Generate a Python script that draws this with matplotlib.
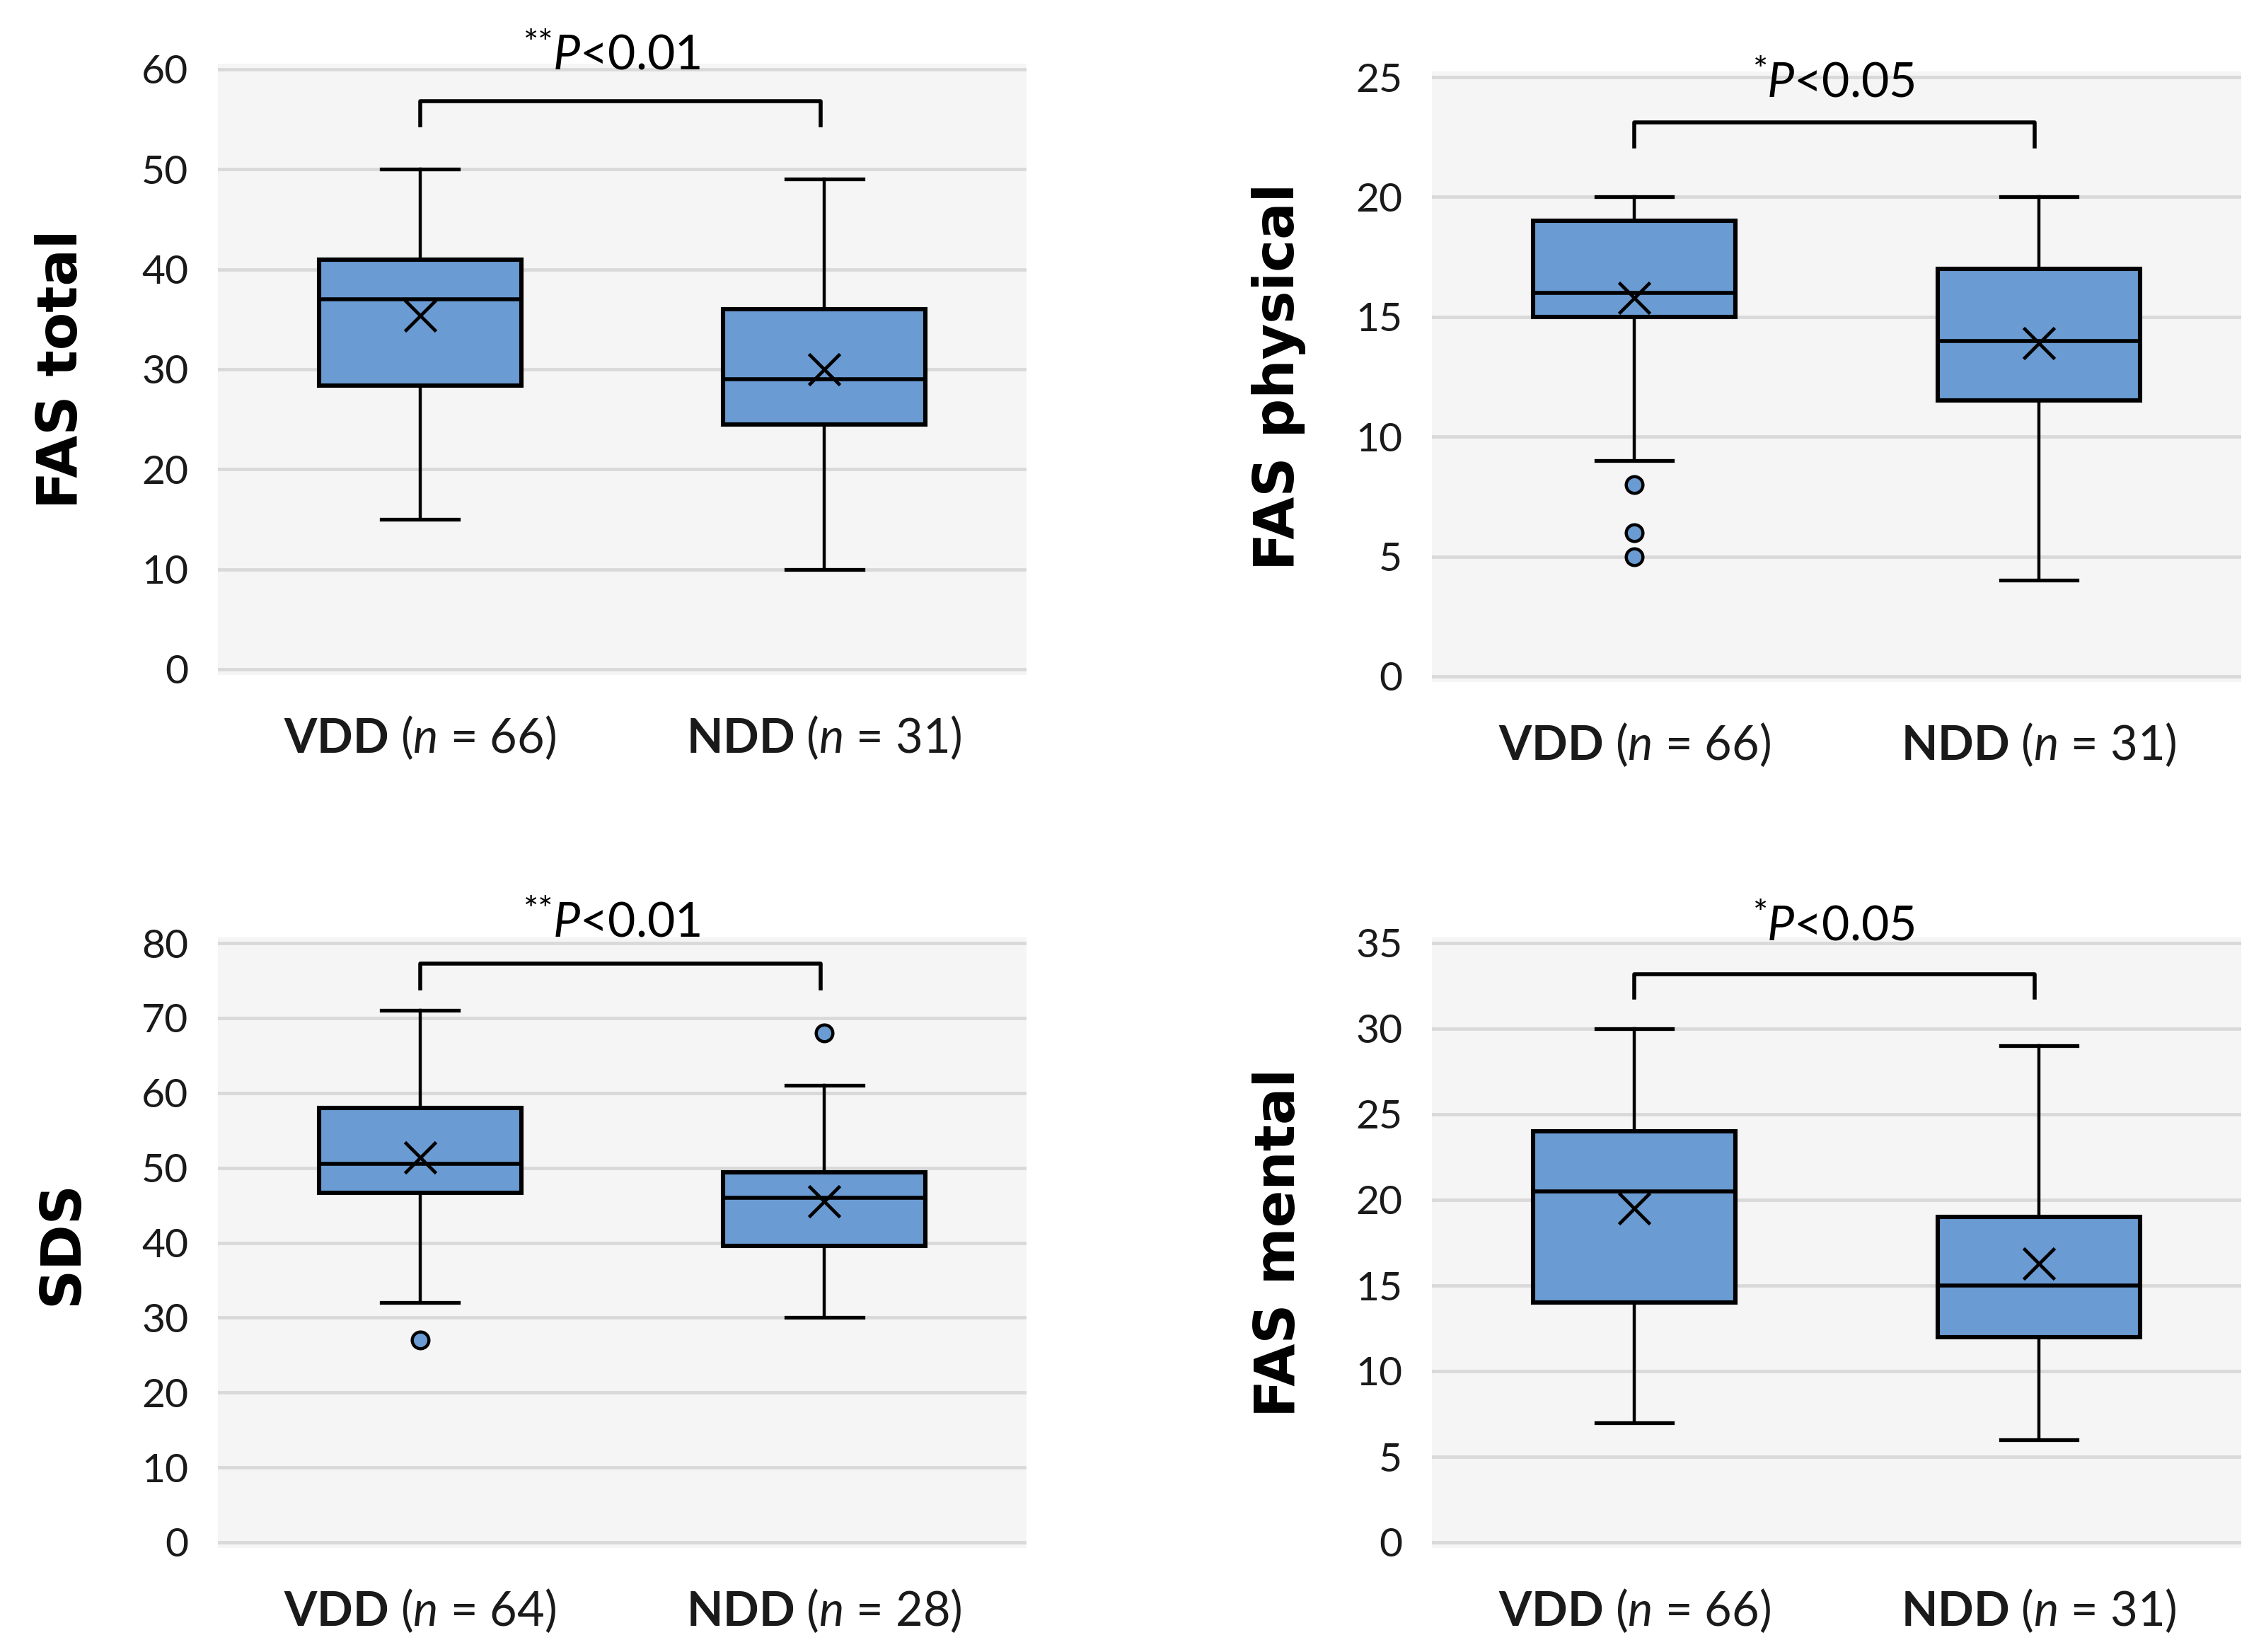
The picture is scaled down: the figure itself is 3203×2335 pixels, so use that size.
import matplotlib.pyplot as plt

plt.rcParams['font.family'] = ['Lato', 'DejaVu Sans']
plt.rcParams['mathtext.fontset'] = 'custom'
plt.rcParams['mathtext.rm'] = 'Lato'
plt.rcParams['mathtext.it'] = 'Lato:italic'
plt.rcParams['mathtext.bf'] = 'Lato:bold'

groups = ['VDD', 'NDD']

# FAS total
total_n = [66, 31]
total_lo = [15, 10]
total_q1 = [28.4, 24.5]
total_med = [37, 29]
total_q3 = [41, 36]
total_hi = [50, 49]
total_mean = [35.4, 30.0]
total_fliers = [[], []]

# FAS physical
phys_n = [66, 31]
phys_lo = [9, 4]
phys_q1 = [15, 11.5]
phys_med = [16, 14]
phys_q3 = [19, 17]
phys_hi = [20, 20]
phys_mean = [15.8, 13.9]
phys_fliers = [[8, 6, 5], []]

# SDS
sds_n = [64, 28]
sds_lo = [32, 30]
sds_q1 = [46.7, 39.6]
sds_med = [50.5, 46]
sds_q3 = [58, 49.4]
sds_hi = [71, 61]
sds_mean = [51.4, 45.5]
sds_fliers = [[27], [68]]

# FAS mental
ment_n = [66, 31]
ment_lo = [7, 6]
ment_q1 = [14, 12]
ment_med = [20.5, 15]
ment_q3 = [24, 19]
ment_hi = [30, 29]
ment_mean = [19.5, 16.3]
ment_fliers = [[], []]

BLUE = '#6a9bd2'
W, H = 3203, 2335

fig = plt.figure(figsize=(W / 100, H / 100), dpi=100)


def make_axes(x0, x1, ytop, yzero, ymax):
    # place axes so that gridline 0 and ymax land on given pixel rows
    pad = 8
    ax = fig.add_axes([x0 / W, 1 - (yzero + pad) / H, (x1 - x0) / W,
                       (yzero - ytop + 2 * pad) / H])
    ppu = (yzero - ytop) / ymax
    ax.set_ylim(-pad / ppu, ymax + pad / ppu)
    return ax


def draw_panel(ax, n, lo, q1, med, q3, hi, mean, fliers, ylabel, ymax, step,
               ptext, stars, br_top, br_end, text_y, label_x):
    stats = []
    for i in range(2):
        stats.append(dict(whislo=lo[i], q1=q1[i], med=med[i], q3=q3[i],
                          whishi=hi[i], mean=mean[i], fliers=fliers[i]))
    ax.bxp(stats, positions=[1, 2], widths=0.5, showmeans=True,
           patch_artist=True, capwidths=0.19,
           boxprops=dict(facecolor=BLUE, edgecolor='black', linewidth=4.4),
           medianprops=dict(color='black', linewidth=4),
           whiskerprops=dict(color='black', linewidth=3.2),
           capprops=dict(color='black', linewidth=3.8),
           meanprops=dict(marker='x', markeredgecolor='black',
                          markersize=31, markeredgewidth=3.4),
           flierprops=dict(marker='o', markerfacecolor=BLUE,
                           markeredgecolor='black', markersize=17,
                           markeredgewidth=3.2))
    ax.set_xlim(0.5, 2.5)
    ax.set_facecolor('#f5f5f5')
    ax.set_yticks(range(0, ymax + 1, step))
    ax.yaxis.grid(True, color='#d9d9d9', linewidth=3.4)
    ax.set_axisbelow(True)
    for s in ax.spines.values():
        s.set_visible(False)
    ax.set_xticks([1, 2])
    ax.set_xticklabels([rf'$\mathbf{{{g}}}$ ($\mathit{{n}}$ = {k})'
                        for g, k in zip(groups, n)])
    ax.tick_params(axis='y', length=0, pad=30, labelsize=41,
                   labelcolor='#1a1a1a')
    ax.tick_params(axis='x', length=0, pad=40, labelsize=48,
                   labelcolor='#1a1a1a')
    ax.set_ylabel(ylabel, fontfamily='DejaVu Sans', fontweight='bold',
                  fontsize=56)
    ax.yaxis.set_label_coords(label_x, 0.5)

    # significance bracket
    ax.plot([1, 1, 1.99, 1.99], [br_end, br_top, br_top, br_end],
            color='black', lw=4, solid_joinstyle='round', clip_on=False)
    t = ax.text(1.51, text_y, r'$\mathit{P}$<' + ptext, ha='center',
                va='baseline', fontsize=49, clip_on=False)
    ax.annotate(stars, xy=(0.01, 1.12), xycoords=t, ha='right', va='top',
                fontsize=36)


ax1 = make_axes(308, 1451, 98, 946, 60)
draw_panel(ax1, total_n, total_lo, total_q1, total_med, total_q3, total_hi,
           total_mean, total_fliers, 'FAS total', 60, 10, '0.01', '**',
           56.8, 54.4, 60.0, -0.16)

ax2 = make_axes(2024, 3168, 109, 956, 25)
draw_panel(ax2, phys_n, phys_lo, phys_q1, phys_med, phys_q3, phys_hi,
           phys_mean, phys_fliers, 'FAS physical', 25, 5, '0.05', '*',
           23.1, 22.1, 24.2, -0.156)

ax3 = make_axes(308, 1451, 1333, 2180, 80)
draw_panel(ax3, sds_n, sds_lo, sds_q1, sds_med, sds_q3, sds_hi,
           sds_mean, sds_fliers, 'SDS', 80, 10, '0.01', '**',
           77.3, 74.0, 80.9, -0.16)

ax4 = make_axes(2024, 3168, 1333, 2180, 35)
draw_panel(ax4, ment_n, ment_lo, ment_q1, ment_med, ment_q3, ment_hi,
           ment_mean, ment_fliers, 'FAS mental', 35, 5, '0.05', '*',
           33.2, 31.8, 35.2, -0.156)

fig.savefig('out.png', dpi=100, facecolor='white')
